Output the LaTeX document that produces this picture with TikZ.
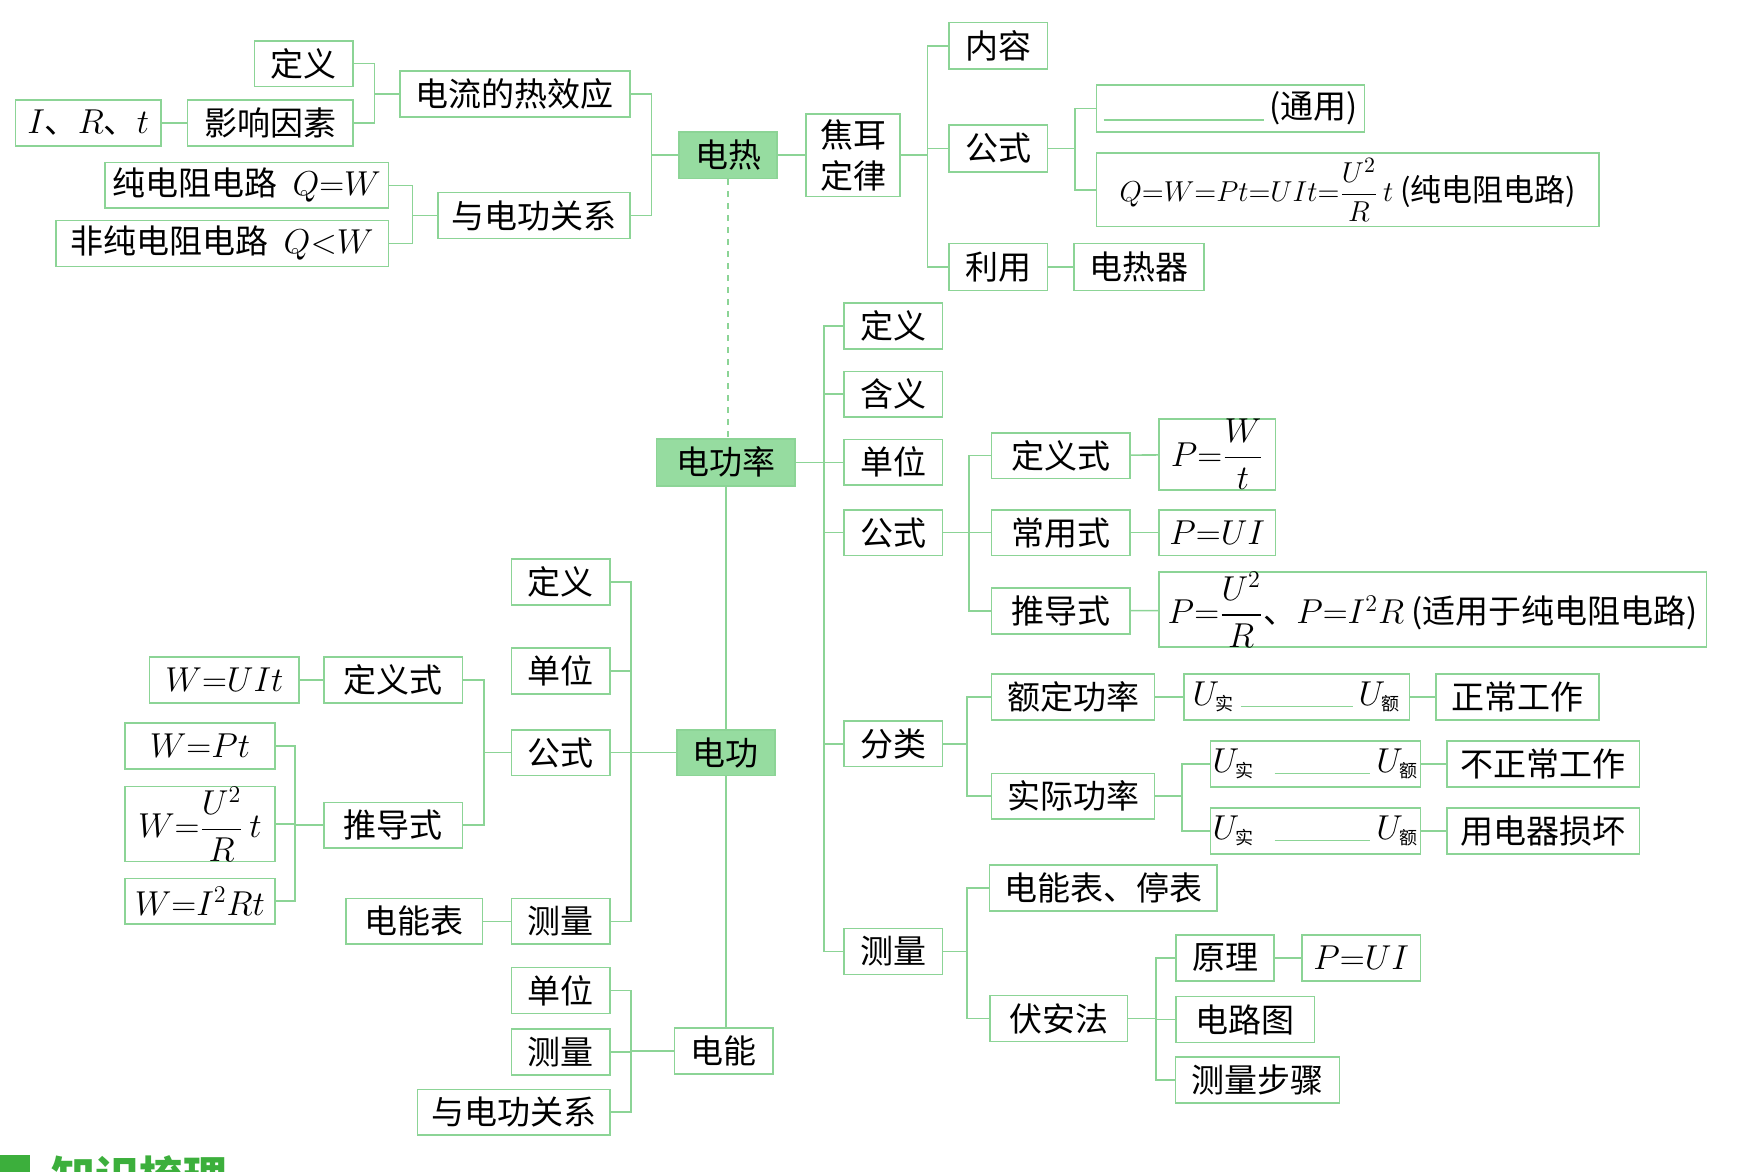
\documentclass[tikz,border=0pt]{standalone}
\usepackage{amsmath}
\usepackage{fontspec}
\setmainfont{Noto Sans CJK SC}
\usetikzlibrary{calc}

\definecolor{lineg}{RGB}{140,212,150}
\definecolor{fillg}{RGB}{150,220,160}
\definecolor{headg}{RGB}{60,175,60}
\newcommand\blank[1]{\textcolor{lineg}{\rule[-1pt]{#1}{0.6pt}}}
\newcommand\cjksub[1]{\mbox{\fontsize{9}{9}\selectfont #1}}

\begin{document}
\begin{tikzpicture}[
    x=0.5584pt, y=-0.5584pt,
    box/.style={draw=lineg,line width=0.8pt,fill=white,minimum height=22.9pt,inner sep=1pt,align=center,font=\fontsize{16.5}{20.5}\selectfont},
    hub/.style={box,fill=fillg},
    wd/.style={minimum width=#1*0.5584pt},
    ht/.style={minimum height=#1*0.5584pt},
    link/.style={draw=lineg,line width=0.8pt}
]
    \useasboundingbox (0,0) rectangle (1568,1049);

    % 电热
    \node[hub,wd=88,ht=42] (dr) at (652,139) {电热};
    \node[box,wd=206] (rXy) at (461,84) {电流的热效应};
    \node[box,wd=88] (rDef) at (272,57) {定义};
    \node[box,wd=148] (rYx) at (242,110) {影响因素};
    \node[box,wd=130] (rIrt) at (79,110) {$I$、$R$、$t$};
    \node[box,wd=172] (rGx) at (478,193) {与电功关系};
    \node[box,wd=254] (rChun) at (221,166) {纯电阻电路\ \ $Q{=}W$};
    \node[box,wd=298] (rFei) at (199,218) {非纯电阻电路\ \ $Q{<}W$};

    \node[box,wd=84,ht=74] (jr) at (764,139) {焦耳\\定律};
    \node[box,wd=88,ht=42] (jNr) at (894,41) {内容};
    \node[box,wd=88,ht=42] (jGs) at (894,133) {公式};
    \node[box,wd=88,ht=42] (jLy) at (894,239) {利用};
    \node[box,wd=116,ht=42] (jDrq) at (1020,239) {电热器};
    \node[box,wd=240,ht=42] (jTy) at (1102,97) {\blank{80pt}\,(通用)};
    \node[box,wd=450,ht=66,inner ysep=0pt,inner xsep=0pt,font=\fontsize{15.5}{19}\selectfont] (jQ) at (1207,170) {$Q{=}W{=}Pt{=}UIt{=}\dfrac{U^2}{R}\,t$ (纯电阻电路)};

    \draw[link] (dr.west) -- ++(-24,0) coordinate (tDr);
    \draw[link] (tDr) |- (rXy.east) (tDr) |- (rGx.east);
    \draw[link] (rXy.west) -- ++(-22,0) coordinate (tXy);
    \draw[link] (tXy) |- (rDef.east) (tXy) |- (rYx.east);
    \draw[link] (rYx) -- (rIrt);
    \draw[link] (rGx.west) -- ++(-22,0) coordinate (tGx);
    \draw[link] (tGx) |- (rChun.east) (tGx) |- (rFei.east);
    \draw[link] (dr) -- (jr);
    \draw[link] (jr.east) -- ++(24,0) coordinate (tJr);
    \draw[link] (tJr) |- (jNr.west) (tJr) |- (jGs.west) (tJr) |- (jLy.west);
    \draw[link] (jGs.east) -- ++(24,0) coordinate (tGs);
    \draw[link] (tGs) |- (jTy.west) (tGs) |- (jQ.west);
    \draw[link] (jLy) -- (jDrq);

    % 电功率
    \node[hub,wd=124,ht=42] (glv) at (650,414) {电功率};
    \node[box,wd=88] (pDef) at (800,292) {定义};
    \node[box,wd=88] (pHy) at (800,353) {含义};
    \node[box,wd=88] (pDw) at (800,414) {单位};
    \node[box,wd=88] (pGs) at (800,477) {公式};
    \node[box,wd=88] (pFl) at (800,666) {分类};
    \node[box,wd=88] (pCl) at (800,852) {测量};
    \node[box,wd=124] (pDys) at (950,408) {定义式};
    \node[box,wd=124] (pCys) at (950,477) {常用式};
    \node[box,wd=124] (pTds) at (950,547) {推导式};
    \node[box,wd=104,ht=57,inner ysep=0pt] (pF1) at (1090,407) {$P{=}\dfrac{W}{t}$};
    \node[box,wd=104] (pF2) at (1090,477) {$P{=}UI$};
    \node[box,wd=490,ht=65,inner ysep=0pt] (pF3) at (1283,546) {$P{=}\dfrac{U^2}{R}$、$P{=}I^2R$ (适用于纯电阻电路)};
    \node[box,wd=146] (pEd) at (961,624) {额定功率};
    \node[box,wd=146] (pSj) at (961,713) {实际功率};
    \node[box,wd=202] (pU1) at (1161,624) {$U_{\cjksub{实}}$\hspace{3pt}\blank{56pt}\hspace{3pt}$U_{\cjksub{额}}$};
    \node[box,wd=146] (pZc) at (1359,624) {正常工作};
    \node[box,wd=187] (pU2) at (1178,684) {$U_{\cjksub{实}}$\hspace{10pt}\blank{48pt}\hspace{3pt}$U_{\cjksub{额}}$};
    \node[box,wd=172] (pBz) at (1382,684) {不正常工作};
    \node[box,wd=187] (pU3) at (1178,744) {$U_{\cjksub{实}}$\hspace{10pt}\blank{48pt}\hspace{3pt}$U_{\cjksub{额}}$};
    \node[box,wd=172] (pSh) at (1382,744) {用电器损坏};
    \node[box,wd=204] (pDnb) at (988,795) {电能表、停表};
    \node[box,wd=123] (pFa) at (948,912) {伏安法};
    \node[box,wd=88] (pYl) at (1097,858) {原理};
    \node[box,wd=106] (pF4) at (1219,858) {$P{=}UI$};
    \node[box,wd=124] (pDlt) at (1115,913) {电路图};
    \node[box,wd=147] (pBzh) at (1126,967) {测量步骤};

    \draw[link,dashed] (dr.south) -- (dr.south |- glv.north);
    \draw[link] (glv.east) -- ++(25,0) coordinate (tGlv);
    \draw[link] (tGlv) |- (pDef.west) (tGlv) |- (pHy.west) (tGlv) |- (pDw.west)
        (tGlv) |- (pGs.west) (tGlv) |- (pFl.west) (tGlv) |- (pCl.west);
    \draw[link] (pGs.east) -- ++(23,0) coordinate (tPgs);
    \draw[link] (tPgs) |- (pDys.west) (tPgs) |- (pCys.west) (tPgs) |- (pTds.west);
    \draw[link] (pDys) -- (pF1);
    \draw[link] (pCys) -- (pF2);
    \draw[link] (pTds) -- (pF3);
    \draw[link] (pFl.east) -- ++(21,0) coordinate (tFl);
    \draw[link] (tFl) |- (pEd.west) (tFl) |- (pSj.west);
    \draw[link] (pEd) -- (pU1);
    \draw[link] (pU1) -- (pZc);
    \draw[link] (pSj.east) -- ++(24,0) coordinate (tSj);
    \draw[link] (tSj) |- (pU2.west) (tSj) |- (pU3.west);
    \draw[link] (pU2) -- (pBz);
    \draw[link] (pU3) -- (pSh);
    \draw[link] (pCl.east) -- ++(21,0) coordinate (tPcl);
    \draw[link] (tPcl) |- (pDnb.west) (tPcl) |- (pFa.west);
    \draw[link] (pFa.east) -- ++(25,0) coordinate (tFa);
    \draw[link] (tFa) |- (pYl.west) (tFa) |- (pDlt.west) (tFa) |- (pBzh.west);
    \draw[link] (pYl) -- (pF4);

    % 电功
    \node[hub,wd=88] (dg) at (650,674) {电功};
    \node[box,wd=88] (wDef) at (502,521) {定义};
    \node[box,wd=88] (wDw) at (502,601) {单位};
    \node[box,wd=88] (wGs) at (502,674) {公式};
    \node[box,wd=88] (wCl) at (502,825) {测量};
    \node[box,wd=122] (wDnb) at (371,825) {电能表};
    \node[box,wd=124] (wDys) at (352,609) {定义式};
    \node[box,wd=124] (wTds) at (352,739) {推导式};
    \node[box,wd=134] (wF1) at (201,609) {$W{=}UIt$};
    \node[box,wd=134] (wF2) at (179,668) {$W{=}Pt$};
    \node[box,wd=134,ht=65,inner ysep=0pt] (wF3) at (179,738) {$W{=}\dfrac{U^2}{R}\,t$};
    \node[box,wd=134] (wF4) at (179,807) {$W{=}I^2Rt$};

    \draw[link] (glv) -- (dg);
    \draw[link] (dg.west) -- ++(-40,0) coordinate (tDg);
    \draw[link] (tDg) |- (wDef.east) (tDg) |- (wDw.east) (tDg) |- (wGs.east) (tDg) |- (wCl.east);
    \draw[link] (wGs.west) -- ++(-24,0) coordinate (tWgs);
    \draw[link] (tWgs) |- (wDys.east) (tWgs) |- (wTds.east);
    \draw[link] (wDys) -- (wF1);
    \draw[link] (wTds.west) -- ++(-25,0) coordinate (tTds);
    \draw[link] (tTds) |- (wF2.east) (tTds) |- (wF3.east) (tTds) |- (wF4.east);
    \draw[link] (wCl) -- (wDnb);

    % 电能
    \node[box,wd=88] (dn) at (648,941) {电能};
    \node[box,wd=88] (nDw) at (502,887) {单位};
    \node[box,wd=88] (nCl) at (502,942) {测量};
    \node[box,wd=172] (nGx) at (460,996) {与电功关系};

    \draw[link] (dg.south) -- (dg.south |- dn.north);
    \draw[link] (dn.west) -- ++(-38,0) coordinate (tDn);
    \draw[link] (tDn) |- (nDw.east) (tDn) |- (nCl.east) (tDn) |- (nGx.east);

    % heading, cut off by the page edge
    \begin{scope}
        \clip (0,0) rectangle (1568,1049);
        \fill[headg] (0,1034) rectangle (27,1060);
        \node[anchor=north west,inner sep=0pt,text=headg,font=\bfseries\fontsize{22}{22}\selectfont] (head) at (46,1034) {知识梳理};
    \end{scope}
\end{tikzpicture}
\end{document}
